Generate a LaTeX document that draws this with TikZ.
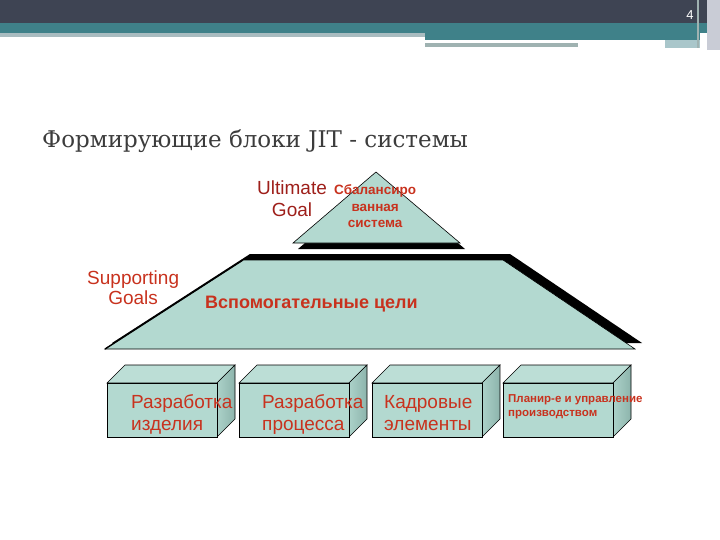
\documentclass[tikz,border=0pt]{standalone}
\usepackage{fontspec}
\setmainfont{Liberation Sans}
\newfontfamily\titlefont{DejaVu Serif}
\usetikzlibrary{calc}

\definecolor{barDark}{HTML}{3E4453}
\definecolor{barTeal}{HTML}{3F8189}
\definecolor{barLight}{HTML}{A9BCC0}
\definecolor{barGrey}{HTML}{9FB2B1}
\definecolor{barEdge}{HTML}{C9CCD6}
\definecolor{jitFace}{HTML}{B3D9D0}
\definecolor{jitTop}{HTML}{BCDED6}
\definecolor{jitSide}{HTML}{8DB4AC}
\definecolor{jitRed}{HTML}{C8321E}
\definecolor{jitDarkRed}{HTML}{9E1F1A}
\definecolor{titleGrey}{HTML}{3C3C3C}

\tikzset{
  face/.style={fill=jitFace, draw=black, line width=0.6pt},
  topface/.style={fill=jitTop, draw=black, line width=0.6pt},
  sideface/.style={left color=jitFace!80!jitSide, right color=jitSide, draw=black, line width=0.6pt},
  goaltext/.style={text=jitRed, anchor=base west, align=left, inner sep=0pt},
  boxtext/.style={text=jitRed, anchor=base west, align=left, inner sep=0pt,
    font=\fontsize{19}{22}\selectfont},
}

\begin{document}
\begin{tikzpicture}[x=1pt,y=-1pt]
\useasboundingbox (0,0) rectangle (720,540);

% header bars
\fill[barDark] (0,0) rectangle (720,23);
\fill[barTeal] (0,23) rectangle (720,33);
\fill[barLight] (0,33) rectangle (425,37);
\fill[barTeal] (425,33) rectangle (700,40);
\fill[white] (425,40) rectangle (665,43);
\fill[barGrey] (425,43) rectangle (578,47);
\fill[barTeal!45] (665,40) rectangle (700,48);
\fill[barEdge] (707,0) rectangle (720,50);
\draw[barGrey, line width=1.5pt] (698,0) -- (698,48);
\node[text=white, font=\fontsize{13}{13}\selectfont] (pagenum) at (690,15) {4};

% title
\node[anchor=base west, inner sep=0pt, text=titleGrey,
  font=\titlefont\fontsize{23}{26}\selectfont] (title) at (42,148)
  {Формирующие блоки JIT - системы};

% top triangle with shadow
\fill[black] (381,178) -- (298,249) -- (465,249) -- cycle;
\draw[face] (376,172) -- (293,243) -- (460,243) -- cycle;

% trapezoid with shadow
\fill[black] (112,343) -- (250,254) -- (510,254) -- (642,343) -- cycle;
\draw[face] (105,349) -- (243,260) -- (503,260) -- (635,349) -- cycle;
\draw[line width=1.4pt] (105,349) -- (243,260);

% boxes
\foreach \bx in {107,239,372,503}{
  \draw[topface] (\bx,383) -- ++(18,-18) -- ++(110,0) -- ++(-18,18) -- cycle;
  \draw[sideface] (\bx+110,383) -- ++(18,-18) -- ++(0,54) -- ++(-18,18) -- cycle;
  \draw[face] (\bx,383) rectangle ++(110,54);
}

% labels
\node[goaltext, align=center, text=jitDarkRed, font=\fontsize{19}{21}\selectfont] (ultimate) at (257,216)
  {Ultimate\\Goal};
\node[goaltext, align=center, font=\bfseries\fontsize{13.5}{16.5}\selectfont] (balanced) at (334,228)
  {Сбалансиро\\ванная\\система};
\node[goaltext, align=center, font=\fontsize{19}{20}\selectfont] (supporting) at (87,304)
  {Supporting\\Goals};
\node[goaltext, font=\bfseries\fontsize{18}{20}\selectfont] (support) at (205,308)
  {Вспомогательные цели};
\node[boxtext] (product) at (131,430) {Разработка\\изделия};
\node[boxtext] (process) at (262,430) {Разработка\\процесса};
\node[boxtext] (staff) at (384,430) {Кадровые\\элементы};
\node[goaltext, font=\bfseries\fontsize{11.5}{14}\selectfont] (planning) at (508,416)
  {Планир-е и управление\\производством};
\end{tikzpicture}
\end{document}
